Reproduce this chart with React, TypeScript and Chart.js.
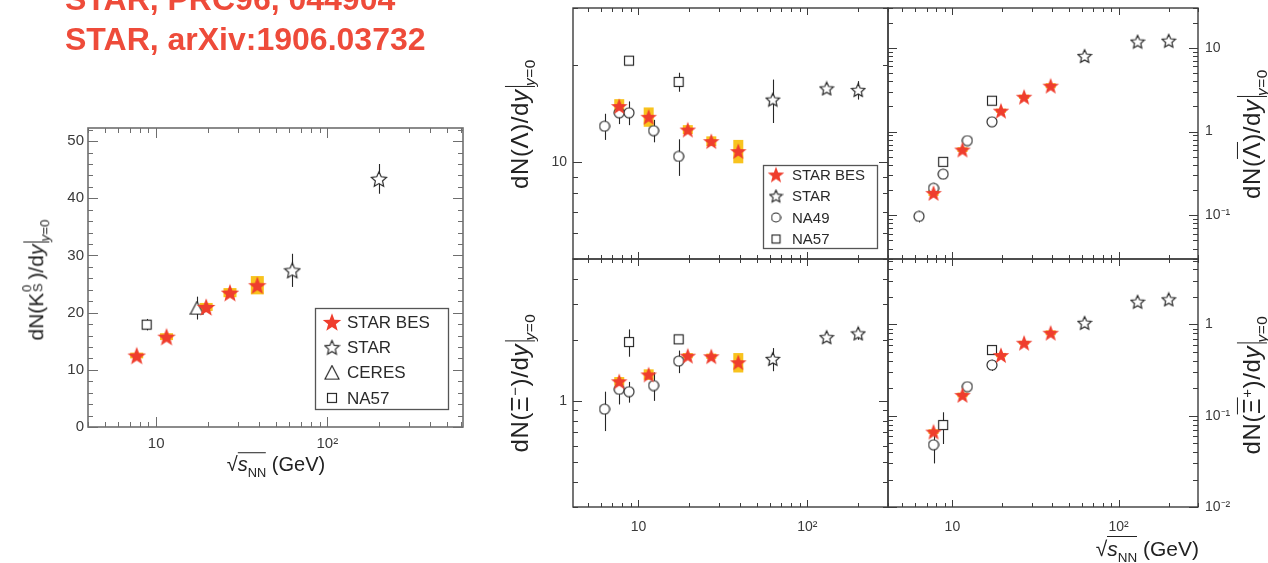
import React, { useEffect, useRef } from "react";
import { Chart, registerables } from "chart.js";

Chart.register(...registerables);

const PAGE_W = 1268;
const PAGE_H = 563;

// ===================== DATA =====================
// collision energies sqrt(s_NN) [GeV]
const BES_ENERGY = [7.7, 11.5, 19.6, 27, 39];
const STAR_ENERGY = [62.4, 130, 200];
const NA49_ENERGY = [6.3, 7.7, 8.8, 12.3, 17.3];
const NA57_ENERGY = [8.8, 17.3];

// K0S
const K0S_BES = [12.5, 15.8, 21.0, 23.5, 24.8];
const K0S_BES_SYS = [0.5, 0.6, 0.7, 0.8, 1.6];
const K0S_STAR_ENERGY = [62.4, 200];
const K0S_STAR = [27.4, 43.4];
const K0S_STAR_ERR = [2.9, 2.6];
const K0S_CERES_ENERGY = [17.3];
const K0S_CERES = [20.8];
const K0S_CERES_ERR = [2.0];
const K0S_NA57_ENERGY = [8.8];
const K0S_NA57 = [17.9];
const K0S_NA57_ERR = [1.0];

// Lambda
const LAM_BES = [14.9, 13.8, 12.6, 11.6, 10.8];
const LAM_BES_SYS = [0.75, 0.95, 0.4, 0.4, 0.9];
const LAM_STAR = [15.6, 16.9, 16.7];
const LAM_STAR_ERR = [2.4, 0.5, 1.1];
const LAM_NA49 = [12.9, 14.2, 14.2, 12.5, 10.4];
const LAM_NA49_ERR = [1.2, 1.1, 1.2, 1.0, 1.35];
const LAM_NA57 = [20.6, 17.7];
const LAM_NA57_ERR = [0.5, 1.2];

// anti-Lambda
const ALAM_BES = [0.185, 0.61, 1.78, 2.61, 3.54];
const ALAM_BES_SYS = [0.015, 0.04, 0.1, 0.15, 0.25];
const ALAM_STAR = [8.0, 11.9, 12.2];
const ALAM_STAR_ERR = [0.8, 0.8, 0.9];
const ALAM_NA49 = [0.097, 0.21, 0.31, 0.78, 1.31];
const ALAM_NA49_ERR = [0.015, 0.03, 0.04, 0.08, 0.1];
const ALAM_NA57 = [0.435, 2.34];
const ALAM_NA57_ERR = [0.04, 0.2];

// Xi-
const XI_BES = [1.25, 1.35, 1.67, 1.66, 1.55];
const XI_BES_SYS = [0.06, 0.08, 0.05, 0.05, 0.17];
const XI_STAR = [1.61, 2.06, 2.15];
const XI_STAR_ERR = [0.21, 0.08, 0.15];
const XI_NA49 = [0.91, 1.14, 1.11, 1.19, 1.57];
const XI_NA49_ERR = [0.2, 0.18, 0.13, 0.19, 0.2];
const XI_NA57 = [1.95, 2.01];
const XI_NA57_ERR = [0.3, 0.08];

// anti-Xi+
const AXI_BES = [0.067, 0.169, 0.462, 0.63, 0.81];
const AXI_BES_SYS = [0.004, 0.01, 0.025, 0.03, 0.05];
const AXI_STAR = [1.04, 1.77, 1.88];
const AXI_STAR_ERR = [0.08, 0.1, 0.12];
const AXI_NA49_ENERGY = [7.7, 12.3, 17.3];
const AXI_NA49 = [0.048, 0.208, 0.359];
const AXI_NA49_ERR = [0.018, 0.02, 0.05];
const AXI_NA57 = [0.079, 0.524];
const AXI_NA57_ERR = [0.03, 0.06];

// axis tick labels
const K0S_Y_LABELS = [0, 10, 20, 30, 40, 50];
const X_LABELS = [10, 100];
const LAM_Y_LABELS = [10];
const ALAM_Y_LABELS = [0.1, 1, 10];
const XI_Y_LABELS = [1];
const AXI_Y_LABELS = [0.01, 0.1, 1];

// ===================== STYLE =====================
const FONT = '"Liberation Sans", Arial, Helvetica, sans-serif';
const RED = "#ef3d2d";
const TITLE_RED = "#ee4b3a";
const SYS_COLOR = "#f8c31e";
const INK = "#262626";

type Series = {
  label: string;
  xs: number[];
  ys: number[];
  err?: number[];
  sys?: number[];
  marker: HTMLCanvasElement;
  order: number;
};

type Legend = {
  x: number; y: number; w: number; h: number;
  first: number; row: number; mx: number; tx: number; font: number;
  entries: { label: string; marker: HTMLCanvasElement }[];
};

type Panel = {
  rect: [number, number, number, number];
  xMin: number; xMax: number;
  yMin: number; yMax: number;
  yLog: boolean;
  ySide: "left" | "right";
  yLabels: number[];
  showX: boolean;
  xPad: number; yPad: number;
  fontSize: number;
  tick: { xMaj: number; xMin: number; yMaj: number; yMin: number };
  frame: { color: string; width: number };
  sysW: number;
  series: Series[];
  legend?: Legend;
};

function starPath(ctx: CanvasRenderingContext2D, cx: number, cy: number, R: number, r: number) {
  ctx.beginPath();
  for (let i = 0; i < 10; i++) {
    const ang = -Math.PI / 2 + (i * Math.PI) / 5;
    const rad = i % 2 === 0 ? R : r;
    const px = cx + rad * Math.cos(ang);
    const py = cy + rad * Math.sin(ang);
    if (i === 0) ctx.moveTo(px, py);
    else ctx.lineTo(px, py);
  }
  ctx.closePath();
}

function makeMarker(kind: string, size: number): HTMLCanvasElement {
  const c = document.createElement("canvas");
  c.width = size;
  c.height = size;
  const ctx = c.getContext("2d")!;
  const m = size / 2;
  ctx.lineWidth = 1.15;
  ctx.strokeStyle = INK;
  if (kind === "fstar") {
    const R = m - 0.3;
    starPath(ctx, m, m + R * 0.1, R, R * 0.42);
    ctx.fillStyle = RED;
    ctx.fill();
  } else if (kind === "ostar") {
    const R = m - 1;
    starPath(ctx, m, m + R * 0.1, R, R * 0.47);
    ctx.fillStyle = "#fff";
    ctx.fill();
    ctx.stroke();
  } else if (kind === "circle") {
    ctx.beginPath();
    ctx.arc(m, m, m - 1, 0, Math.PI * 2);
    ctx.fillStyle = "#fff";
    ctx.fill();
    ctx.stroke();
  } else if (kind === "square") {
    ctx.fillStyle = "#fff";
    ctx.fillRect(1, 1, size - 2, size - 2);
    ctx.strokeRect(1.5, 1.5, size - 3, size - 3);
  } else if (kind === "triangle") {
    ctx.beginPath();
    ctx.moveTo(m, 1);
    ctx.lineTo(size - 1, size - 1.5);
    ctx.lineTo(1, size - 1.5);
    ctx.closePath();
    ctx.fillStyle = "#fff";
    ctx.fill();
    ctx.stroke();
  }
  return c;
}

function logTicks(min: number, max: number) {
  const major: number[] = [];
  const minor: number[] = [];
  for (let d = Math.floor(Math.log10(min)); d <= Math.ceil(Math.log10(max)); d++) {
    for (let k = 1; k <= 9; k++) {
      const v = k * Math.pow(10, d);
      if (v >= min * 0.9999 && v <= max * 1.0001) (k === 1 ? major : minor).push(v);
    }
  }
  return { major, minor };
}

function linTicks(min: number, max: number, majStep: number, minStep: number) {
  const major: number[] = [];
  const minor: number[] = [];
  for (let v = Math.ceil(min / minStep) * minStep; v <= max + 1e-9; v += minStep) {
    const r = Math.round(v * 1000) / 1000;
    if (Math.abs(r / majStep - Math.round(r / majStep)) < 1e-6) major.push(r);
    else minor.push(r);
  }
  return { major, minor };
}

const SUP: Record<string, string> = { "-": "⁻", "0": "⁰", "1": "¹", "2": "²", "3": "³" };
function fmtPow(v: number): string {
  if (Math.abs(v - 1) < 1e-9) return "1";
  if (Math.abs(v - 10) < 1e-9) return "10";
  const e = Math.round(Math.log10(v));
  return "10" + String(e).split("").map((ch) => SUP[ch]).join("");
}

function panelPlugin(cfg: Panel) {
  return {
    id: "panelDecor",
    beforeDatasetsDraw(chart: any) {
      const ctx: CanvasRenderingContext2D = chart.ctx;
      const xs = chart.scales.x;
      const ys = chart.scales.y;
      const a = chart.chartArea;
      ctx.save();
      ctx.beginPath();
      ctx.rect(a.left, a.top, a.right - a.left, a.bottom - a.top);
      ctx.clip();
      cfg.series.forEach((s) => {
        if (s.sys) {
          ctx.fillStyle = SYS_COLOR;
          s.xs.forEach((x, i) => {
            const px = xs.getPixelForValue(x);
            const y1 = ys.getPixelForValue(s.ys[i] + s.sys![i]);
            const y2 = ys.getPixelForValue(s.ys[i] - s.sys![i]);
            ctx.fillRect(px - cfg.sysW / 2, y1, cfg.sysW, y2 - y1);
          });
        }
        if (s.err) {
          ctx.strokeStyle = INK;
          ctx.lineWidth = 1.1;
          s.xs.forEach((x, i) => {
            const px = Math.round(xs.getPixelForValue(x)) + 0.5;
            const y1 = ys.getPixelForValue(s.ys[i] + s.err![i]);
            const y2 = ys.getPixelForValue(s.ys[i] - s.err![i]);
            ctx.beginPath();
            ctx.moveTo(px, y1);
            ctx.lineTo(px, y2);
            ctx.stroke();
          });
        }
      });
      ctx.restore();
    },
    afterDraw(chart: any) {
      const ctx: CanvasRenderingContext2D = chart.ctx;
      const xs = chart.scales.x;
      const ys = chart.scales.y;
      const a = chart.chartArea;
      ctx.save();
      // ticks
      ctx.strokeStyle = cfg.frame.color;
      ctx.lineWidth = 1;
      const xt = logTicks(cfg.xMin, cfg.xMax);
      const drawX = (vals: number[], len: number) => {
        vals.forEach((v) => {
          const px = Math.round(xs.getPixelForValue(v)) + 0.5;
          ctx.beginPath();
          ctx.moveTo(px, a.bottom);
          ctx.lineTo(px, a.bottom - len);
          ctx.moveTo(px, a.top);
          ctx.lineTo(px, a.top + len);
          ctx.stroke();
        });
      };
      drawX(xt.minor, cfg.tick.xMin);
      drawX(xt.major, cfg.tick.xMaj);
      const yt = cfg.yLog ? logTicks(cfg.yMin, cfg.yMax) : linTicks(cfg.yMin, cfg.yMax, 10, 2);
      const drawY = (vals: number[], len: number) => {
        vals.forEach((v) => {
          const py = Math.round(ys.getPixelForValue(v)) + 0.5;
          ctx.beginPath();
          ctx.moveTo(a.left, py);
          ctx.lineTo(a.left + len, py);
          ctx.moveTo(a.right, py);
          ctx.lineTo(a.right - len, py);
          ctx.stroke();
        });
      };
      drawY(yt.minor, cfg.tick.yMin);
      drawY(yt.major, cfg.tick.yMaj);
      // frame
      ctx.strokeStyle = cfg.frame.color;
      ctx.lineWidth = cfg.frame.width;
      ctx.strokeRect(a.left, a.top, a.right - a.left, a.bottom - a.top);
      // legend
      const lg = cfg.legend;
      if (lg) {
        ctx.fillStyle = "#fff";
        ctx.fillRect(lg.x, lg.y, lg.w, lg.h);
        ctx.strokeStyle = "#555";
        ctx.lineWidth = 1.3;
        ctx.strokeRect(lg.x + 0.5, lg.y + 0.5, lg.w, lg.h);
        ctx.fillStyle = "#2a2a2a";
        ctx.font = `${lg.font}px ${FONT}`;
        ctx.textBaseline = "middle";
        ctx.textAlign = "left";
        lg.entries.forEach((e, i) => {
          const cy = lg.y + lg.first + i * lg.row;
          ctx.drawImage(e.marker, lg.x + lg.mx - e.marker.width / 2, cy - e.marker.height / 2);
          ctx.fillText(e.label, lg.x + lg.tx, cy + 1);
        });
      }
      ctx.restore();
    },
  };
}

function buildChart(canvas: HTMLCanvasElement, cfg: Panel) {
  const [L, T, R, B] = cfg.rect;
  const YW = 60;
  const XH = 40;
  const padding = {
    top: T,
    left: cfg.ySide === "left" ? L - YW : L,
    right: cfg.ySide === "right" ? PAGE_W - R - YW : PAGE_W - R,
    bottom: cfg.showX ? PAGE_H - B - XH : PAGE_H - B,
  };
  const tickFont = { family: FONT, size: cfg.fontSize };
  const noPad = (s: any) => {
    s.paddingTop = 0;
    s.paddingBottom = 0;
    s.paddingLeft = 0;
    s.paddingRight = 0;
  };
  const xScale: any = {
    type: "logarithmic",
    min: cfg.xMin,
    max: cfg.xMax,
    display: cfg.showX,
    grid: { display: false, drawTicks: false },
    border: { display: false },
    afterBuildTicks: (s: any) => {
      s.ticks = X_LABELS.map((v) => ({ value: v }));
    },
    afterFit: (s: any) => {
      noPad(s);
      if (cfg.showX) s.height = XH;
    },
    ticks: {
      autoSkip: false,
      maxRotation: 0,
      padding: cfg.xPad,
      font: tickFont,
      color: "#3a3a3a",
      callback: (v: any) => fmtPow(Number(v)),
    },
  };
  const yScale: any = {
    type: cfg.yLog ? "logarithmic" : "linear",
    position: cfg.ySide,
    min: cfg.yMin,
    max: cfg.yMax,
    grid: { display: false, drawTicks: false },
    border: { display: false },
    afterFit: (s: any) => {
      noPad(s);
      s.width = YW;
    },
    afterBuildTicks: (s: any) => {
      s.ticks = cfg.yLabels.map((v) => ({ value: v }));
    },
    ticks: {
      autoSkip: false,
      padding: cfg.yPad,
      font: tickFont,
      color: "#3a3a3a",
      callback: (v: any) => (cfg.yLog ? fmtPow(Number(v)) : String(v)),
    },
  };
  return new Chart(canvas, {
    type: "scatter",
    data: {
      datasets: cfg.series.map((s) => ({
        label: s.label,
        data: s.xs.map((x, i) => ({ x, y: s.ys[i] })),
        pointStyle: s.marker as any,
        pointRadius: 6,
        pointHoverRadius: 6,
        order: s.order,
        showLine: false,
      })),
    },
    options: {
      responsive: false,
      animation: false,
      events: [],
      layout: { padding },
      plugins: { legend: { display: false }, tooltip: { enabled: false } },
      scales: { x: xScale, y: yScale },
    } as any,
    plugins: [panelPlugin(cfg)],
  });
}

function buildPanels(): Panel[] {
  const big = {
    fstar: makeMarker("fstar", 20),
    ostar: makeMarker("ostar", 18),
    tri: makeMarker("triangle", 15),
    square: makeMarker("square", 12),
  };
  const sm = {
    fstar: makeMarker("fstar", 18),
    ostar: makeMarker("ostar", 16),
    circle: makeMarker("circle", 12),
    square: makeMarker("square", 12),
  };
  const lgm = {
    fstar: makeMarker("fstar", 18),
    ostar: makeMarker("ostar", 15),
    circle: makeMarker("circle", 11),
    square: makeMarker("square", 11),
  };
  const rightFrame = { color: "#3c3c3c", width: 1.4 };
  const rightTick = { xMaj: 7, xMin: 4, yMaj: 9, yMin: 5 };
  const XMIN = 4.1;
  const XMAX = 300;

  const k0s: Panel = {
    rect: [88, 128, 463, 427],
    xMin: 4, xMax: 620, yMin: 0, yMax: 52.3, yLog: false, ySide: "left",
    yLabels: K0S_Y_LABELS, showX: true, xPad: 8, yPad: 4, fontSize: 15,
    tick: { xMaj: 10, xMin: 5, yMaj: 10, yMin: 5 },
    frame: { color: "#6e6e6e", width: 1.6 },
    sysW: 13,
    series: [
      { label: "STAR BES", xs: BES_ENERGY, ys: K0S_BES, sys: K0S_BES_SYS, marker: big.fstar, order: 0 },
      { label: "STAR", xs: K0S_STAR_ENERGY, ys: K0S_STAR, err: K0S_STAR_ERR, marker: big.ostar, order: 1 },
      { label: "CERES", xs: K0S_CERES_ENERGY, ys: K0S_CERES, err: K0S_CERES_ERR, marker: big.tri, order: 2 },
      { label: "NA57", xs: K0S_NA57_ENERGY, ys: K0S_NA57, err: K0S_NA57_ERR, marker: big.square, order: 3 },
    ],
    legend: {
      x: 315, y: 308, w: 133, h: 101, first: 14, row: 25.3, mx: 17, tx: 32, font: 17,
      entries: [
        { label: "STAR BES", marker: makeMarker("fstar", 20) },
        { label: "STAR", marker: makeMarker("ostar", 17) },
        { label: "CERES", marker: makeMarker("triangle", 16) },
        { label: "NA57", marker: makeMarker("square", 12) },
      ],
    },
  };

  const lam: Panel = {
    rect: [573, 8, 888, 259],
    xMin: XMIN, xMax: XMAX, yMin: 5, yMax: 30, yLog: true, ySide: "left",
    yLabels: LAM_Y_LABELS, showX: false, xPad: 12, yPad: 6, fontSize: 14,
    tick: rightTick, frame: rightFrame, sysW: 10,
    series: [
      { label: "STAR BES", xs: BES_ENERGY, ys: LAM_BES, sys: LAM_BES_SYS, marker: sm.fstar, order: 0 },
      { label: "STAR", xs: STAR_ENERGY, ys: LAM_STAR, err: LAM_STAR_ERR, marker: sm.ostar, order: 1 },
      { label: "NA49", xs: NA49_ENERGY, ys: LAM_NA49, err: LAM_NA49_ERR, marker: sm.circle, order: 2 },
      { label: "NA57", xs: NA57_ENERGY, ys: LAM_NA57, err: LAM_NA57_ERR, marker: sm.square, order: 3 },
    ],
    legend: {
      x: 763, y: 165, w: 114, h: 83, first: 9.5, row: 21.5, mx: 13, tx: 29, font: 15,
      entries: [
        { label: "STAR BES", marker: lgm.fstar },
        { label: "STAR", marker: lgm.ostar },
        { label: "NA49", marker: lgm.circle },
        { label: "NA57", marker: lgm.square },
      ],
    },
  };

  const alam: Panel = {
    rect: [888, 8, 1198, 259],
    xMin: XMIN, xMax: XMAX, yMin: 0.03, yMax: 30, yLog: true, ySide: "right",
    yLabels: ALAM_Y_LABELS, showX: false, xPad: 12, yPad: 7, fontSize: 14,
    tick: rightTick, frame: rightFrame, sysW: 10,
    series: [
      { label: "STAR BES", xs: BES_ENERGY, ys: ALAM_BES, sys: ALAM_BES_SYS, marker: sm.fstar, order: 0 },
      { label: "STAR", xs: STAR_ENERGY, ys: ALAM_STAR, err: ALAM_STAR_ERR, marker: sm.ostar, order: 1 },
      { label: "NA49", xs: NA49_ENERGY, ys: ALAM_NA49, err: ALAM_NA49_ERR, marker: sm.circle, order: 3 },
      { label: "NA57", xs: NA57_ENERGY, ys: ALAM_NA57, err: ALAM_NA57_ERR, marker: sm.square, order: 2 },
    ],
  };

  const xi: Panel = {
    rect: [573, 259, 888, 507],
    xMin: XMIN, xMax: XMAX, yMin: 0.3, yMax: 5, yLog: true, ySide: "left",
    yLabels: XI_Y_LABELS, showX: true, xPad: 12, yPad: 6, fontSize: 14,
    tick: rightTick, frame: rightFrame, sysW: 10,
    series: [
      { label: "STAR BES", xs: BES_ENERGY, ys: XI_BES, sys: XI_BES_SYS, marker: sm.fstar, order: 0 },
      { label: "STAR", xs: STAR_ENERGY, ys: XI_STAR, err: XI_STAR_ERR, marker: sm.ostar, order: 1 },
      { label: "NA49", xs: NA49_ENERGY, ys: XI_NA49, err: XI_NA49_ERR, marker: sm.circle, order: 2 },
      { label: "NA57", xs: NA57_ENERGY, ys: XI_NA57, err: XI_NA57_ERR, marker: sm.square, order: 3 },
    ],
  };

  const axi: Panel = {
    rect: [888, 259, 1198, 507],
    xMin: XMIN, xMax: XMAX, yMin: 0.01, yMax: 5.2, yLog: true, ySide: "right",
    yLabels: AXI_Y_LABELS, showX: true, xPad: 12, yPad: 7, fontSize: 14,
    tick: rightTick, frame: rightFrame, sysW: 10,
    series: [
      { label: "STAR BES", xs: BES_ENERGY, ys: AXI_BES, sys: AXI_BES_SYS, marker: sm.fstar, order: 0 },
      { label: "STAR", xs: STAR_ENERGY, ys: AXI_STAR, err: AXI_STAR_ERR, marker: sm.ostar, order: 1 },
      { label: "NA49", xs: AXI_NA49_ENERGY, ys: AXI_NA49, err: AXI_NA49_ERR, marker: sm.circle, order: 3 },
      { label: "NA57", xs: NA57_ENERGY, ys: AXI_NA57, err: AXI_NA57_ERR, marker: sm.square, order: 2 },
    ],
  };

  return [k0s, lam, alam, xi, axi];
}

// ===================== TEXT HELPERS =====================
const Bar = () => (
  <span
    style={{
      display: "inline-block",
      borderLeft: "1.5px solid #222",
      height: "1.25em",
      verticalAlign: "-0.3em",
      marginLeft: "0.1em",
    }}
  />
);
const Sub = ({ children }: { children: React.ReactNode }) => (
  <span style={{ fontSize: "0.64em", verticalAlign: "-0.45em" }}>{children}</span>
);
const Sup = ({ children }: { children: React.ReactNode }) => (
  <span style={{ fontSize: "0.62em", verticalAlign: "0.55em" }}>{children}</span>
);
const Over = ({ children }: { children: React.ReactNode }) => (
  <span style={{ borderTop: "1.5px solid #222", paddingTop: 0 }}>{children}</span>
);

function VText({ cx, cy, size, spacing, children }: { cx: number; cy: number; size: number; spacing?: number; children: React.ReactNode }) {
  return (
    <div
      style={{
        position: "absolute",
        left: cx,
        top: cy,
        transform: "translate(-50%, -50%) rotate(-90deg)",
        whiteSpace: "nowrap",
        fontFamily: FONT,
        fontSize: size,
        color: "#222",
        lineHeight: 1,
        letterSpacing: spacing ?? 0,
      }}
    >
      {children}
    </div>
  );
}

function SqrtS({ size }: { size: number }) {
  return (
    <span style={{ fontFamily: FONT, fontSize: size, color: "#222", whiteSpace: "nowrap", lineHeight: 1 }}>
      <span>√</span>
      <span style={{ borderTop: "1.5px solid #222" }}>
        <i>s</i>
        <Sub>NN</Sub>
      </span>{" "}
      (GeV)
    </span>
  );
}

export default function App() {
  const canv = useRef<(HTMLCanvasElement | null)[]>([]);
  useEffect(() => {
    const panels = buildPanels();
    const charts = panels.map((p, i) => buildChart(canv.current[i]!, p));
    return () => charts.forEach((c) => c.destroy());
  }, []);

  return (
    <div
      style={{
        position: "absolute",
        left: 0,
        top: 0,
        width: PAGE_W,
        height: PAGE_H,
        overflow: "hidden",
        background: "#fff",
      }}
    >
      {[0, 1, 2, 3, 4].map((i) => (
        <canvas
          key={i}
          ref={(el) => {
            canv.current[i] = el;
          }}
          width={PAGE_W}
          height={PAGE_H}
          style={{ position: "absolute", left: 0, top: 0 }}
        />
      ))}

      {/* red title lines */}
      <div
        style={{
          position: "absolute", left: 65, top: -17, fontFamily: FONT, fontWeight: "bold",
          fontSize: 32, lineHeight: "32px", color: TITLE_RED, whiteSpace: "nowrap",
        }}
      >
        STAR, PRC96, 044904
      </div>
      <div
        style={{
          position: "absolute", left: 65, top: 23, fontFamily: FONT, fontWeight: "bold",
          fontSize: 32, lineHeight: "32px", color: TITLE_RED, whiteSpace: "nowrap",
        }}
      >
        STAR, arXiv:1906.03732
      </div>

      {/* K0S panel axis titles */}
      <VText cx={37} cy={280} size={21}>
        dN(K
        <span style={{ position: "relative", display: "inline-block", width: "0.62em", height: "1em" }}>
          <span style={{ position: "absolute", left: "0.05em", top: "-0.18em", fontSize: "0.62em" }}>0</span>
          <span style={{ position: "absolute", left: "0.05em", top: "0.72em", fontSize: "0.62em" }}>S</span>
        </span>
        )/d<i>y</i>
        <Bar />
        <Sub>
          <i>y</i>=0
        </Sub>
      </VText>
      <div style={{ position: "absolute", left: 276, top: 467, transform: "translate(-50%, -50%)" }}>
        <SqrtS size={20} />
      </div>

      {/* right panel axis titles */}
      <VText cx={521} cy={124} size={24} spacing={0.6}>
        dN(Λ)/d<i>y</i>
        <Bar />
        <Sub>
          <i>y</i>=0
        </Sub>
      </VText>
      <VText cx={521} cy={383} size={24} spacing={0.6}>
        dN(Ξ<Sup>−</Sup>)/d<i>y</i>
        <Bar />
        <Sub>
          <i>y</i>=0
        </Sub>
      </VText>
      <VText cx={1253} cy={134} size={24} spacing={0.6}>
        dN(<Over>Λ</Over>)/d<i>y</i>
        <Bar />
        <Sub>
          <i>y</i>=0
        </Sub>
      </VText>
      <VText cx={1253} cy={385} size={24} spacing={0.6}>
        dN(<Over>Ξ</Over>
        <Sup>+</Sup>)/d<i>y</i>
        <Bar />
        <Sub>
          <i>y</i>=0
        </Sub>
      </VText>
      <div style={{ position: "absolute", right: PAGE_W - 1199, top: 538 }}>
        <SqrtS size={21} />
      </div>
    </div>
  );
}
